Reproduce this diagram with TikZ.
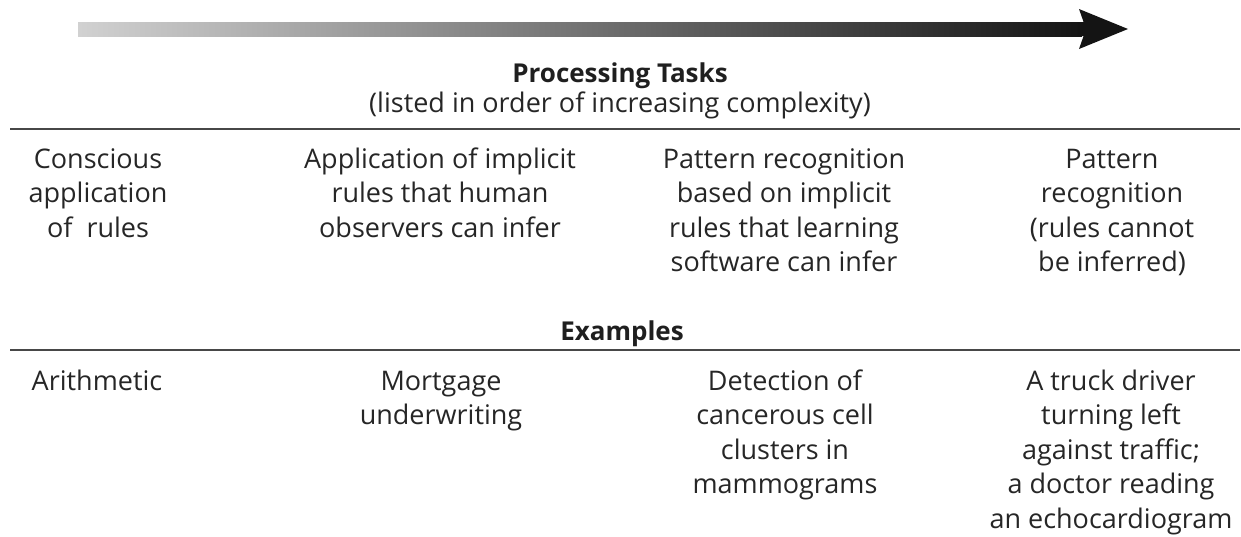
\documentclass[tikz,border=0pt]{standalone}
\usepackage{fontspec}
\setmainfont{Open Sans}
\begin{document}
\begin{tikzpicture}[x=1pt,y=-1pt,
  txt/.style={text=black!85, align=center, inner sep=0pt, anchor=north,
    font=\fontsize{27}{34.5}\selectfont},
  hdr/.style={text=black!88, inner sep=0pt, anchor=base,
    font=\bfseries\fontsize{26}{30}\selectfont},
  sub/.style={text=black!85, inner sep=0pt, anchor=base,
    font=\fontsize{27}{30}\selectfont},
  rule/.style={draw=black!72, line width=1.6pt}]
\useasboundingbox (0,0) rectangle (1241,536);
% gradient arrow
\shade[left color=black!18, right color=black!92] (78,22) rectangle (1082,36);
\fill[black!92] (1079,9) -- (1128,29) -- (1079,49) -- (1086,29) -- cycle;
\fill[black!92] (1078,22) rectangle (1090,36);
% header
\node[hdr] (title) at (620,82) {Processing Tasks};
\node[sub] (subt) at (620,112) {(listed in order of increasing complexity)};
\draw[rule] (10,129) -- (1240,129);
% tasks
\node[txt] (t1) at (98,144) {\strut Conscious\\application\\of~ rules};
\node[txt] (t2) at (440,144) {\strut Application of implicit\\rules that human\\observers can infer};
\node[txt] (t3) at (784,144) {\strut Pattern recognition\\based on implicit\\rules that learning\\software can infer};
\node[txt] (t4) at (1112,144) {\strut Pattern\\recognition\\(rules cannot\\be inferred)};
% examples
\node[hdr] (ex) at (622,340) {Examples};
\draw[rule] (10,350) -- (1240,350);
\node[txt] (e1) at (97,366) {\strut Arithmetic};
\node[txt] (e2) at (441,366) {\strut Mortgage\\underwriting};
\node[txt] (e3) at (785,366) {\strut Detection of\\cancerous cell\\clusters in\\mammograms};
\node[txt] (e4) at (1111,366) {\strut A truck driver\\turning left\\against traffic;\\a doctor reading\\an echocardiogram};
\end{tikzpicture}
\end{document}
